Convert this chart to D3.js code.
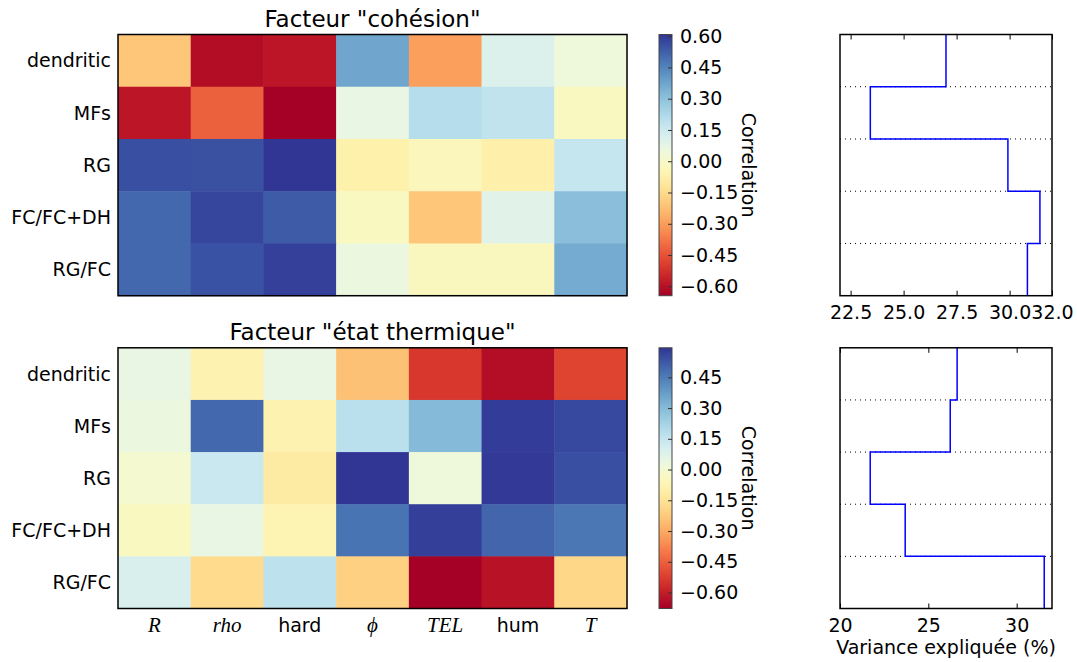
<!DOCTYPE html>
<html>
<head>
<meta charset="utf-8">
<script src="https://cdn.jsdelivr.net/npm/d3@7"></script>
<style>
  body { margin: 0; background: #fff; }
  svg { font-family: "DejaVu Sans", sans-serif; }
</style>
</head>
<body>
<svg width="1077" height="662"></svg>
<script>
const rows = ['dendritic', 'MFs', 'RG', 'FC/FC+DH', 'RG/FC'];
const cols = ['R', 'rho', 'hard', 'ϕ', 'TEL', 'hum', 'T'];
const mathCols = ['R', 'rho', 'ϕ', 'TEL', 'T'];

const cohesion = [
  [-0.206, -0.61, -0.59, 0.37, -0.294, 0.107, 0.044],
  [-0.59, -0.42, -0.645, 0.069, 0.207, 0.182, -0.018],
  [0.558, 0.555, 0.608, -0.069, -0.031, -0.075, 0.17],
  [0.508, 0.577, 0.533, -0.018, -0.206, 0.094, 0.307],
  [0.508, 0.552, 0.589, 0.057, -0.025, -0.025, 0.357],
];
const thermal = [
  [0.047, -0.087, 0.047, -0.245, -0.54, -0.64, -0.51],
  [0.034, 0.492, -0.087, 0.174, 0.301, 0.581, 0.556],
  [-0.004, 0.136, -0.118, 0.594, 0.022, 0.588, 0.543],
  [-0.042, 0.047, -0.08, 0.467, 0.575, 0.499, 0.46],
  [0.098, -0.176, 0.168, -0.207, -0.678, -0.63, -0.188],
];

const cohesionVar = [27.0, 23.43, 29.92, 31.43, 30.84];
const thermalVar = [26.63, 26.24, 21.71, 23.69, 31.56];

const cohesionCbTicks = [0.6, 0.45, 0.3, 0.15, 0, -0.15, -0.3, -0.45, -0.6];
const thermalCbTicks = [0.45, 0.3, 0.15, 0, -0.15, -0.3, -0.45, -0.6];
const cohesionVarTicks = [22.5, 25, 27.5, 30, 32];
const thermalVarTicks = [20, 25, 30];

const svg = d3.select('svg');
const defs = svg.append('defs');

const hmX = d3.scaleBand().domain(cols).range([118, 627]);
const cbX = [659, 672];
const varRange = [840, 1052];

function drawPanel(cfg) {
  const { id, title, data, top, bottom, cbTicks, varData, varDomain, varTicks, varFmt, showX, showVarLabel } = cfg;
  const y = d3.scaleBand().domain(rows).range([top, bottom]);
  const flat = data.flat();
  const vmin = d3.min(flat);
  const vmax = d3.max(flat);
  const color = d3.scaleSequential(d3.interpolateRdYlBu).domain([vmin, vmax]);

  const g = svg.append('g');

  // title
  g.append('text')
    .attr('x', (hmX.range()[0] + hmX.range()[1]) / 2)
    .attr('y', top - 8)
    .attr('text-anchor', 'middle')
    .attr('font-size', 23)
    .text(title);

  // heatmap cells
  const cells = [];
  data.forEach((r, i) => r.forEach((v, j) => cells.push({ row: rows[i], col: cols[j], v })));
  g.append('g')
    .selectAll('rect')
    .data(cells)
    .join('rect')
    .attr('x', (d) => hmX(d.col))
    .attr('y', (d) => y(d.row))
    .attr('width', hmX.bandwidth() + 0.5)
    .attr('height', y.bandwidth() + 0.5)
    .attr('fill', (d) => color(d.v));

  g.append('rect')
    .attr('x', hmX.range()[0])
    .attr('y', top)
    .attr('width', hmX.range()[1] - hmX.range()[0])
    .attr('height', bottom - top)
    .attr('fill', 'none')
    .attr('stroke', '#000')
    .attr('stroke-width', 1.5);

  // row labels
  g.append('g')
    .selectAll('text')
    .data(rows)
    .join('text')
    .attr('x', 111)
    .attr('y', (d) => y(d) + y.bandwidth() / 2)
    .attr('dy', '0.36em')
    .attr('text-anchor', 'end')
    .attr('font-size', 19)
    .text((d) => d);

  if (showX) {
    g.append('g')
      .selectAll('text')
      .data(cols)
      .join('text')
      .attr('x', (d) => hmX(d) + hmX.bandwidth() / 2)
      .attr('y', bottom + 23)
      .attr('text-anchor', 'middle')
      .attr('font-size', (d) => (mathCols.includes(d) ? 21 : 19))
      .attr('font-family', (d) => (mathCols.includes(d) ? '"Liberation Serif", serif' : null))
      .attr('font-style', (d) => (mathCols.includes(d) ? 'italic' : null))
      .text((d) => d);
  }

  // colorbar
  const cbY = d3.scaleLinear().domain([vmin, vmax]).range([bottom, top]);
  const grad = defs.append('linearGradient')
    .attr('id', `grad-${id}`)
    .attr('x1', 0).attr('y1', 1).attr('x2', 0).attr('y2', 0);
  d3.range(0, 1.0001, 0.02).forEach((t) => {
    grad.append('stop')
      .attr('offset', t)
      .attr('stop-color', d3.interpolateRdYlBu(t));
  });
  g.append('rect')
    .attr('x', cbX[0])
    .attr('y', top)
    .attr('width', cbX[1] - cbX[0])
    .attr('height', bottom - top)
    .attr('fill', `url(#grad-${id})`)
    .attr('stroke', '#444')
    .attr('stroke-width', 1);

  const cbAxis = g.append('g')
    .attr('transform', `translate(${cbX[1]},0)`)
    .call(d3.axisRight(cbY).tickValues(cbTicks).tickFormat(d3.format('.2f')).tickSize(-4).tickPadding(8));
  cbAxis.select('.domain').remove();
  cbAxis.selectAll('line').attr('stroke', '#333');
  cbAxis.selectAll('text').attr('font-size', 19).attr('font-family', '"DejaVu Sans", sans-serif');

  g.append('text')
    .attr('transform', `translate(742,${(top + bottom) / 2}) rotate(90)`)
    .attr('text-anchor', 'middle')
    .attr('font-size', 19)
    .text('Correlation');

  // variance step plot
  const vx = d3.scaleLinear().domain(varDomain).range(varRange);
  const vy = d3.scaleLinear().domain([0, rows.length]).range([top, bottom]);

  g.append('g')
    .selectAll('line')
    .data(d3.range(1, rows.length))
    .join('line')
    .attr('x1', varRange[0])
    .attr('x2', varRange[1])
    .attr('y1', (d) => vy(d))
    .attr('y2', (d) => vy(d))
    .attr('stroke', '#000')
    .attr('stroke-width', 1)
    .attr('stroke-dasharray', '1,4');

  const pts = [];
  varData.forEach((v, i) => { pts.push([v, i]); pts.push([v, i + 1]); });
  g.append('path')
    .datum(pts)
    .attr('fill', 'none')
    .attr('stroke', '#0000ff')
    .attr('stroke-width', 1.5)
    .attr('d', d3.line().x((d) => vx(d[0])).y((d) => vy(d[1])));

  const bx = g.append('g')
    .attr('transform', `translate(0,${bottom})`)
    .call(d3.axisBottom(vx).tickValues(varTicks).tickFormat(d3.format(varFmt)).tickSize(-5).tickPadding(10));
  bx.select('.domain').remove();
  bx.selectAll('text').attr('font-size', 19).attr('font-family', '"DejaVu Sans", sans-serif').attr('fill', '#000');
  const tx = g.append('g')
    .attr('transform', `translate(0,${top})`)
    .call(d3.axisTop(vx).tickValues(varTicks).tickFormat('').tickSize(-5));
  tx.select('.domain').remove();

  g.append('rect')
    .attr('x', varRange[0])
    .attr('y', top)
    .attr('width', varRange[1] - varRange[0])
    .attr('height', bottom - top)
    .attr('fill', 'none')
    .attr('stroke', '#000')
    .attr('stroke-width', 1.5);

  if (showVarLabel) {
    g.append('text')
      .attr('x', (varRange[0] + varRange[1]) / 2)
      .attr('y', bottom + 45)
      .attr('text-anchor', 'middle')
      .attr('font-size', 19)
      .text('Variance expliquée (%)');
  }
}

drawPanel({
  id: 'coh',
  title: 'Facteur "cohésion"',
  data: cohesion,
  top: 34.5,
  bottom: 295.7,
  cbTicks: cohesionCbTicks,
  varData: cohesionVar,
  varDomain: [22, 32],
  varTicks: cohesionVarTicks,
  varFmt: '.1f',
  showX: false,
  showVarLabel: false,
});

drawPanel({
  id: 'therm',
  title: 'Facteur "état thermique"',
  data: thermal,
  top: 347.8,
  bottom: 608.5,
  cbTicks: thermalCbTicks,
  varData: thermalVar,
  varDomain: [20, 32],
  varTicks: thermalVarTicks,
  varFmt: 'd',
  showX: true,
  showVarLabel: true,
});
</script>
</body>
</html>
